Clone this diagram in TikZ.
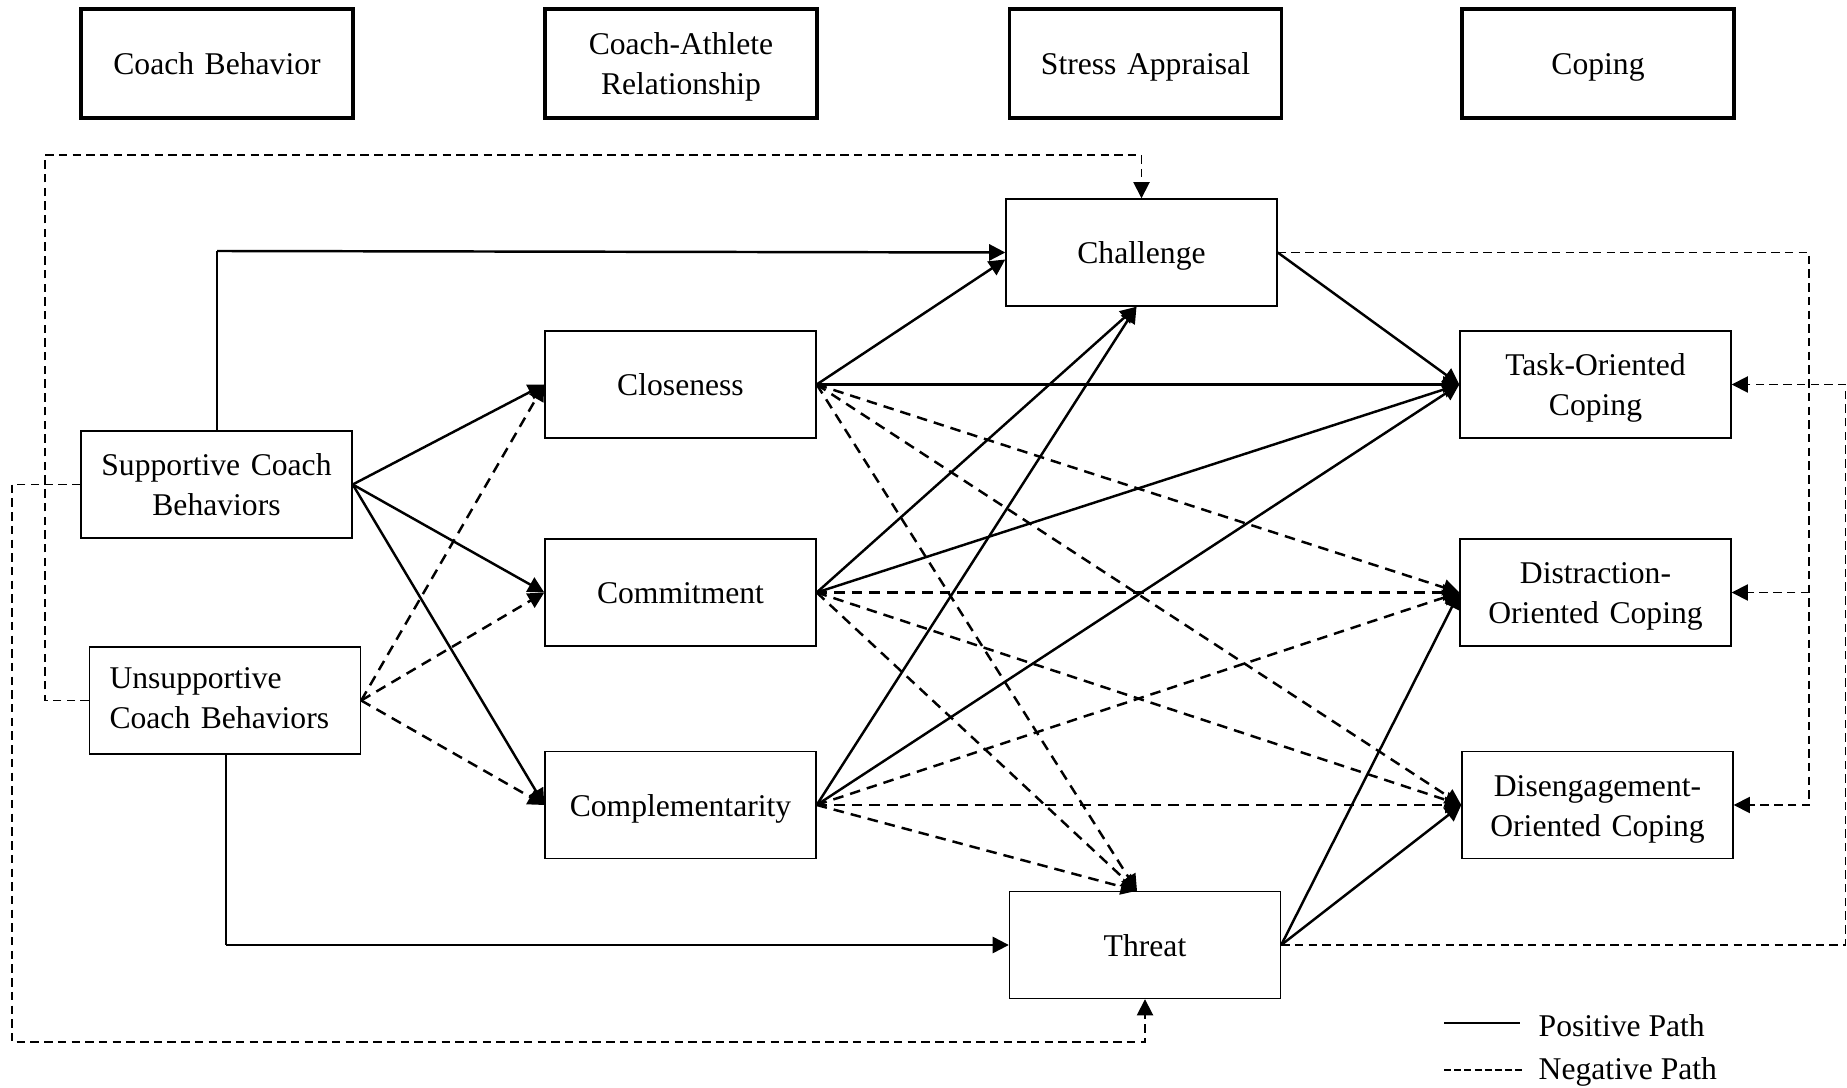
\documentclass[tikz,border=0pt]{standalone}
\usepackage{fontspec}
\setmainfont{Liberation Serif}
\usetikzlibrary{arrows.meta}

\tikzset{
  box/.style={draw, line width=0.4pt, minimum width=2.71cm, minimum height=1.07cm, text width=2.55cm, align=center, inner sep=2pt,
    execute at begin node=\rule{0pt}{9.8pt}, execute at end node={\rule[-3.4pt]{0pt}{3.4pt}}},
  head/.style={box, line width=1pt, minimum width=2.72cm, minimum height=1.09cm},
  posline/.style={->, line width=0.7pt},
  negline/.style={->, line width=0.7pt, dash pattern=on 3pt off 2pt},
  fbline/.style={->, line width=0.5pt, dash pattern=on 2.4pt off 1.5pt},
}

\begin{document}
\begin{tikzpicture}[font=\fontsize{9}{11.5}\selectfont, >={Triangle[length=4.6pt,width=4.6pt]}]
        \useasboundingbox (0,0) rectangle (18.47,10.88);

        % Headers
        \node[head] (hbeh) at (2.17,10.245) {Coach Behavior};
        \node[head] (hrel) at (6.81,10.245) {Coach-Athlete\\Relationship};
        \node[head] (hstr) at (11.455,10.245) {Stress Appraisal};
        \node[head] (hcop) at (15.98,10.245) {Coping};

        % Nodes
        \node[box] (supp) at (2.165,6.035) {Supportive Coach\\Behaviors};
        \node[box, align=left, text width=2.31cm, inner xsep=0.2cm, execute at end node={\rule[-5.1pt]{0pt}{5.1pt}}] (unsupp) at (2.25,3.875) {Unsupportive\\Coach Behaviors};
        \node[box] (clos) at (6.805,7.035) {Closeness};
        \node[box] (comm) at (6.805,4.955) {Commitment};
        \node[box] (compl) at (6.805,2.83) {Complementarity};
        \node[box] (chal) at (11.415,8.355) {Challenge};
        \node[box] (thr) at (11.45,1.43) {Threat};
        \node[box] (task) at (15.955,7.035) {Task-Oriented\\Coping};
        \node[box] (dist) at (15.955,4.955) {Distraction-\\Oriented Coping};
        \node[box] (dis) at (15.975,2.83) {Disengagement-\\Oriented Coping};

        % Corners of the long paths
        \coordinate (topL) at (0.45,9.33);
        \coordinate (botL) at (0.12,0.46);
        \coordinate (suppUp) at (2.17,8.37);
        \coordinate (unsuppDn) at (2.26,1.43);
        \coordinate (cR) at (18.09,2.83);
        \coordinate (tR) at (18.455,7.035);

        % Arrows from coach behaviors
        \draw[line width=0.7pt] (supp.north -| suppUp) -- (suppUp);
        \draw[posline] (suppUp) -- (chal.west);
        \draw[line width=0.7pt] (unsupp.south -| unsuppDn) -- (unsuppDn);
        \draw[posline] (unsuppDn) -- (thr.west);
        \draw[posline] (supp.east) -- (clos.west);
        \draw[posline] (supp.east) -- (comm.west);
        \draw[posline] (supp.east) -- (compl.west);
        \draw[negline] (unsupp.east) -- (clos.west);
        \draw[negline] (unsupp.east) -- (comm.west);
        \draw[negline] (unsupp.east) -- (compl.west);
        \draw[fbline] (unsupp.west) -| (topL) -| (chal.north);
        \draw[fbline] (supp.west) -| (botL) -| (thr.south);

        % Arrows from the relationship
        \draw[posline] (clos.east) -- ([yshift=-0.07cm]chal.west);
        \draw[posline] (comm.east) -- ([xshift=-0.05cm]chal.south);
        \draw[posline] (compl.east) -- ([xshift=-0.05cm]chal.south);
        \foreach \src in {clos,comm,compl}{
            \draw[posline] (\src.east) -- (task.west);
            \draw[negline] (\src.east) -- (dist.west);
            \draw[negline] (\src.east) -- (dis.west);
            \draw[negline] (\src.east) -- ([xshift=-0.08cm]thr.north);
        }

        % Arrows from appraisal
        \draw[posline] (chal.east) -- (task.west);
        \draw[posline] (thr.east) -- (dist.west);
        \draw[posline] (thr.east) -- (dis.west);
        \draw[fbline] (chal.east) -| (cR) -- (dis.east);
        \draw[fbline] (dist.east -| cR) -- (dist.east);
        \draw[fbline] (thr.east) -| (tR) -- (task.east);

        % Legend
        \coordinate (lp1) at (14.44,0.65);
        \coordinate (lp2) at (15.20,0.65);
        \coordinate (ln1) at (14.44,0.18);
        \coordinate (ln2) at (15.25,0.18);
        \draw[line width=0.5pt] (lp1) -- (lp2);
        \draw[line width=0.5pt, dash pattern=on 2pt off 0.9pt] (ln1) -- (ln2);
        \node[anchor=base west, inner sep=0pt] (lpos) at (15.38,0.51) {Positive Path};
        \node[anchor=base west, inner sep=0pt] (lneg) at (15.38,0.08) {Negative Path};

    \end{tikzpicture}
\end{document}
